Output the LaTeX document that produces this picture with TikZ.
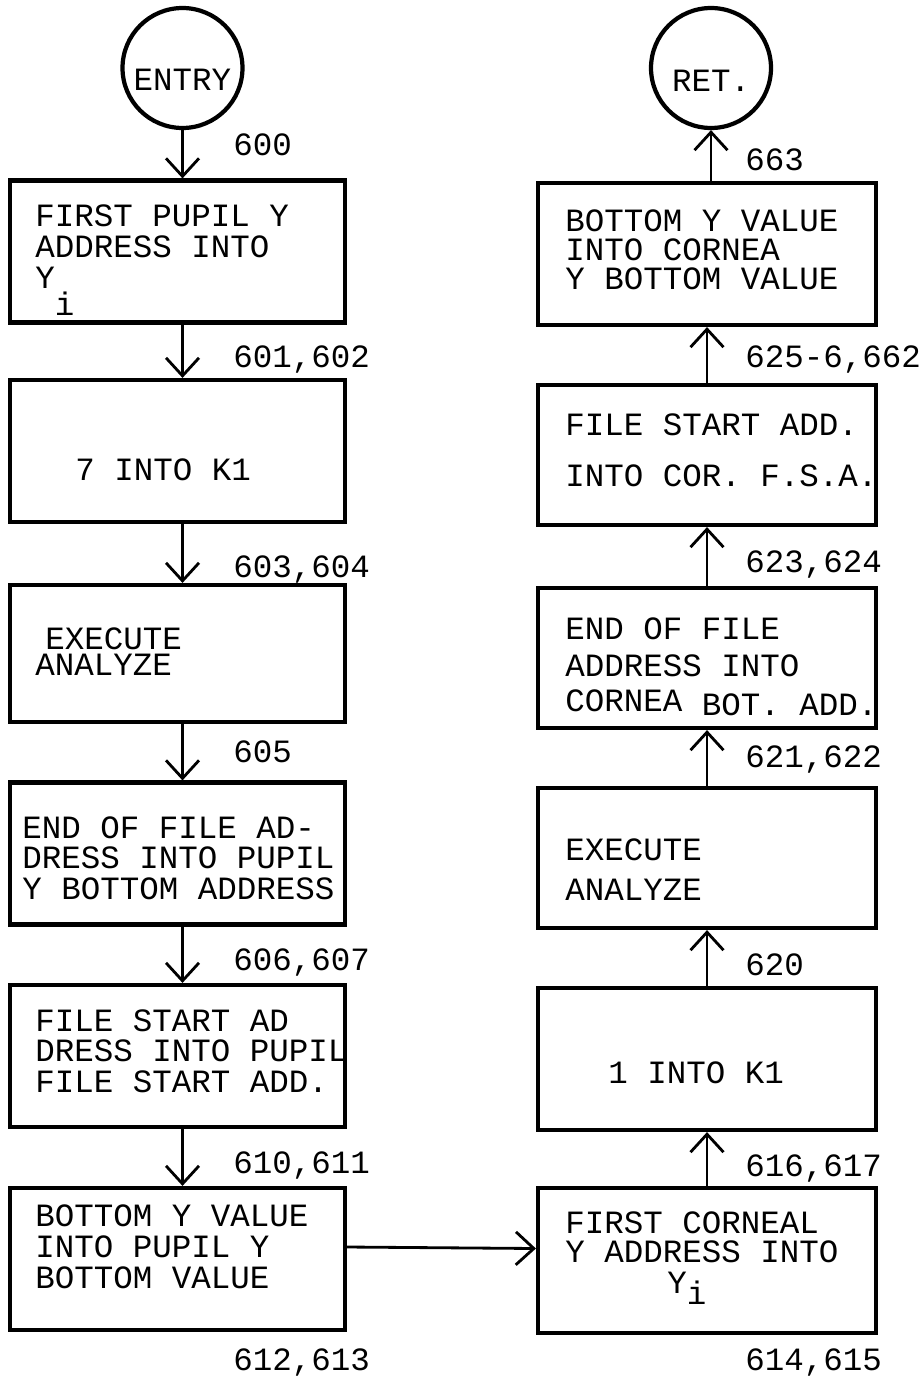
\documentclass[tikz,border=0pt]{standalone}
\usepackage{fontspec}
\newfontfamily\typer{Liberation Mono}
\usetikzlibrary{arrows.meta}

\tikzset{
  box/.style={draw, line width=2.4pt, minimum width=6.7cm, minimum height=2.84cm, inner sep=0pt},
  term/.style={draw, circle, line width=2.4pt, minimum size=2.4cm, inner sep=0pt, font=\typer\fontsize{18.5pt}{0.62cm}\selectfont},
  txt/.style={inner sep=0pt, align=left, anchor=north west, font=\typer\fontsize{18.5pt}{0.62cm}\selectfont},
  num/.style={inner sep=0pt, anchor=west, font=\typer\fontsize{18.5pt}{0.62cm}\selectfont},
  flow/.style={line width=1.6pt, -{Straight Barb[length=0.36cm,width=0.66cm,line width=1.6pt]}}
}

\begin{document}
\begin{tikzpicture}[x=0.02cm, y=-0.02cm]
\useasboundingbox (0,0) rectangle (922,1385);
% left column: pupil
\node[term] (entry) at (182.5,68) {\raisebox{-0.46cm}[0pt][0pt]{ENTRY}};
\node[box] (first) at (177.5,251.5) {};
\node[box] (kseven) at (177.5,451) {};
\node[box, minimum height=2.74cm] (exec1) at (177.5,653.5) {};
\node[box] (eofp) at (177.5,853.5) {};
\node[box] (fsap) at (177.5,1056) {};
\node[box] (boty) at (177.5,1259) {};
\node[txt] (first-t) at (35,204) {FIRST PUPIL Y\\ADDRESS INTO\\Y\\[-0.08cm]\ i};
\node[num] (kseven-t) at (75,470) {7 INTO K1};
\node[txt] (exec1-t) at (35,627) {\hspace*{0.2cm}EXECUTE\\[-0.1cm]ANALYZE};
\node[txt] (eofp-t) at (22,816) {END OF FILE AD-\\[-0.02cm]DRESS INTO PUPIL\\Y BOTTOM ADDRESS};
\node[txt] (fsap-t) at (35,1009) {FILE START AD\\[-0.02cm]DRESS INTO PUPIL\\FILE START ADD.};
\node[txt] (boty-t) at (35,1204) {BOTTOM Y VALUE\\INTO PUPIL Y\\BOTTOM VALUE};
% right column: cornea
\node[term] (ret) at (711,68) {\raisebox{-0.48cm}[0pt][0pt]{RET.}};
\node[box, minimum width=6.76cm] (botc) at (707,254) {};
\node[box, minimum width=6.76cm, minimum height=2.8cm] (fsac) at (707,455) {};
\node[box, minimum width=6.76cm, minimum height=2.8cm] (eofc) at (707,658) {};
\node[box, minimum width=6.76cm, minimum height=2.8cm] (exec2) at (707,858) {};
\node[box, minimum width=6.76cm] (kone) at (707,1059) {};
\node[box, minimum width=6.76cm, minimum height=2.9cm] (firstc) at (707,1260.5) {};
\node[txt] (botc-t) at (565,209) {BOTTOM Y VALUE\\[-0.04cm]INTO CORNEA\\[-0.04cm]Y BOTTOM VALUE};
\node[txt] (fsac-t) at (565,413) {FILE START ADD.\\[0.4cm]INTO COR. F.S.A.};
\node[txt] (eofc-t) at (565,617) {END OF FILE\\[0.12cm]ADDRESS INTO\\[0.08cm]CORNEA \raisebox{-0.08cm}{BOT. ADD.}};
\node[txt] (exec2-t) at (565,838) {EXECUTE\\[0.18cm]ANALYZE};
\node[num] (kone-t) at (608,1073) {1 INTO K1};
\node[txt] (firstc-t) at (565,1211) {FIRST CORNEAL\\[-0.04cm]Y ADDRESS INTO\\[0cm]\hspace*{2.04cm}Y\raisebox{-0.22cm}{i}};
% step numbers
\node[num] (n600) at (233,145) {600};
\node[num] (n601) at (233,360) {601,602};
\node[num] (n603) at (233,570) {603,604};
\node[num] (n605) at (233,752) {605};
\node[num] (n606) at (233,962) {606,607};
\node[num] (n610) at (233,1165) {610,611};
\node[num] (n612) at (233,1362) {612,613};
\node[num] (n663) at (745,160) {663};
\node[num] (n625) at (745,360) {625-6,662};
\node[num] (n623) at (745,565) {623,624};
\node[num] (n621) at (745,760) {621,622};
\node[num] (n620) at (745,965) {620};
\node[num] (n616) at (745,1168) {616,617};
\node[num] (n614) at (745,1362) {614,615};
% flow
\draw[flow] (entry.south) -- (first.north -| entry);
\draw[flow] (first.south -| entry) -- (kseven.north -| entry);
\draw[flow] (kseven.south -| entry) -- (exec1.north -| entry);
\draw[flow] (exec1.south -| entry) -- (eofp.north -| entry);
\draw[flow] (eofp.south -| entry) -- (fsap.north -| entry);
\draw[flow] (fsap.south -| entry) -- (boty.north -| entry);
\draw[flow] ([yshift=0.24cm]boty.east) -- ([yshift=0.24cm]firstc.west);
\draw[flow] (firstc.north) -- (kone.south);
\draw[flow] (kone.north) -- (exec2.south);
\draw[flow] (exec2.north) -- (eofc.south);
\draw[flow] (eofc.north) -- (fsac.south);
\draw[flow] (fsac.north) -- (botc.south);
\draw[flow] (botc.north -| ret) -- (ret.south);
\end{tikzpicture}
\end{document}
